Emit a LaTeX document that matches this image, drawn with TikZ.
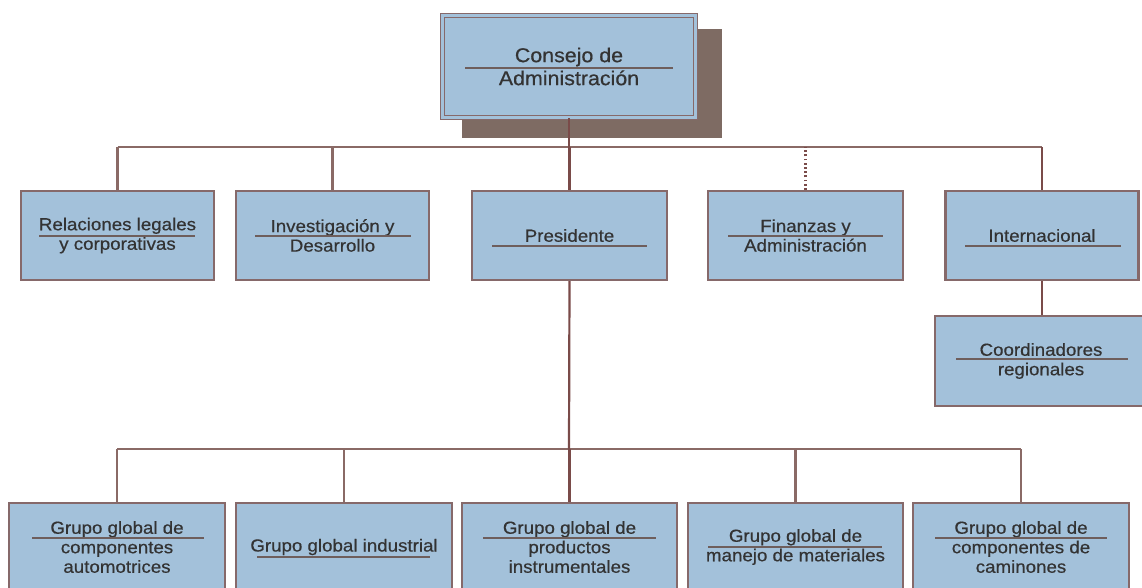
\documentclass[tikz,border=0pt]{standalone}
\usepackage{fontspec}
\setmainfont{Liberation Sans}[FakeStretch=1.07,FakeBold=0.5]
\definecolor{boxfill}{HTML}{A3C1DA}
\definecolor{bordc}{HTML}{86696A}
\definecolor{shadowc}{HTML}{7E6B63}
\definecolor{solidc}{HTML}{7A4B49}
\definecolor{texc}{HTML}{8A6A66}
\definecolor{sepc}{HTML}{6E5E5C}
\definecolor{txtc}{HTML}{333333}
\begin{document}
\begin{tikzpicture}[x=1pt,y=-1pt,
  box/.style={draw=bordc, fill=boxfill, line width=2.2pt, inner sep=0pt, align=center, text=txtc,
     font=\fontsize{17.5}{19.5}\selectfont},
  rowtwo/.style={box, minimum width=193pt, minimum height=89pt},
  rowthree/.style={box, minimum width=216pt, minimum height=88pt},
  topbox/.style={box, draw=bordc, line width=1.5pt, double=boxfill, double distance=2.5pt,
     minimum width=253pt, minimum height=102pt, font=\fontsize{20}{23}\selectfont},
  sepline/.style={draw=sepc, line width=2pt},
  solidline/.style={draw=solidc, line width=2.2pt},
  texline/.style={draw=texc, line width=2.3pt},
  dotline/.style={draw=solidc, line width=2.6pt, dash pattern=on 1.8pt off 2.4pt}]
\useasboundingbox (0,0) rectangle (1142,588);
\fill[white] (0,0) rectangle (1142,588);

% shadow of top box
\fill[shadowc] (462,29) rectangle (722,138);
\node[topbox] (top) at (569,66.5) {Consejo de\\Administración};

% second row
\node[rowtwo] (r1) at (117.5,235.5) {Relaciones legales\\y corporativas};
\node[rowtwo] (r2) at (332.5,235.5) {Investigación y\\Desarrollo};
\node[rowtwo, minimum width=195pt] (r3) at (569.5,235.5) {Presidente};
\node[rowtwo, minimum width=195pt] (r4) at (805.5,235.5) {Finanzas y\\Administración};
\node[rowtwo] (r5) at (1042,235.5) {Internacional};
\node[box, minimum width=212pt, minimum height=90pt] (co) at (1041,361) {Coordinadores\\regionales};

% bottom row
\node[rowthree] (g1) at (117,547) {Grupo global de\\componentes\\automotrices};
\node[rowthree] (g2) at (344,547) {Grupo global industrial};
\node[rowthree, minimum width=215pt] (g3) at (569.5,547) {Grupo global de\\productos\\instrumentales};
\node[rowthree, minimum width=215pt] (g4) at (795.5,547) {Grupo global de\\manejo de materiales};
\node[rowthree] (g5) at (1021,547) {Grupo global de\\componentes de\\caminones};

% separators
\draw[sepline] (465,68) -- (673,68);
\draw[sepline] (39,236) -- (195,236);
\draw[sepline] (255,236) -- (411,236);
\draw[sepline] (492,246) -- (647,246);
\draw[sepline] (728,236) -- (883,236);
\draw[sepline] (965,246) -- (1121,246);
\draw[sepline] (956,359) -- (1128,359);
\draw[sepline] (32,538) -- (204,538);
\draw[sepline] (257,557) -- (430,557);
\draw[sepline] (483,538) -- (656,538);
\draw[sepline] (708,547) -- (882,547);
\draw[sepline] (935,538) -- (1107,538);

% connectors
\coordinate (bus1) at (569,147);
\coordinate (bus2) at (569,449);
\draw[texline] (bus1 -| r1.north) -- (bus1 -| r5.north);
\draw[solidline] (top.south) -- (bus1);
\draw[texline] (r1.north) -- (r1.north |- bus1);
\draw[texline] (r2.north) -- (r2.north |- bus1);
\draw[solidline] (r3.north) -- (r3.north |- bus1);
\draw[dotline] (r4.north) -- (r4.north |- bus1);
\draw[solidline] (r5.north) -- (r5.north |- bus1);
\draw[solidline] (r5.south) -- (r5.south |- co.north);

\draw[texline] (bus2 -| g1.north) -- (bus2 -| g5.north);
\draw[solidline] (r3.south) -- (bus2);
\draw[texline] (g1.north) -- (g1.north |- bus2);
\draw[texline] (g2.north) -- (g2.north |- bus2);
\draw[solidline] (g3.north) -- (g3.north |- bus2);
\draw[texline] (g4.north) -- (g4.north |- bus2);
\draw[texline] (g5.north) -- (g5.north |- bus2);
\end{tikzpicture}
\end{document}
